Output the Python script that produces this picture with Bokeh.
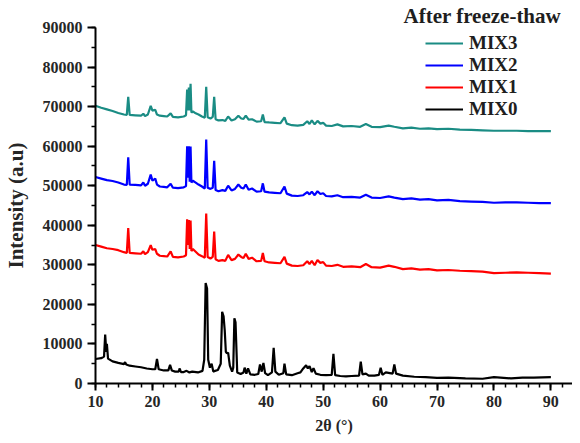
from bokeh.plotting import figure
from bokeh.models import Range1d, Legend, LegendItem, FixedTicker
from bokeh.embed import file_html
from bokeh.resources import INLINE

# ---------------- data ----------------
x_mix0 = [10, 11, 11.5, 11.7, 11.9, 12.0, 12.2, 13, 14, 15, 15.2, 15.4, 16, 17, 18, 19, 20, 20.5, 20.8, 21.1,
          22, 22.8, 23.1, 23.4, 24, 24.6, 24.8, 25.0, 25.5, 26, 26.5, 27, 28, 28.8, 29.1, 29.35, 29.6, 29.8,
          30.1, 30.4, 30.7, 31, 31.5, 32.0, 32.25, 32.5, 32.7, 32.9, 33.1, 33.3, 33.6, 34.0, 34.2, 34.4, 34.6,
          34.9, 35.5, 36.0, 36.2, 36.5, 36.8, 37.2, 38, 38.6, 38.9, 39.2, 39.5, 39.8, 40.3, 41.0, 41.3, 41.6,
          42.2, 43.0, 43.2, 43.5, 44.5, 45.5, 46, 46.5, 47, 47.3, 47.6, 48.0, 48.3, 48.7, 49.5, 50.5, 51.5,
          51.8, 52.1, 53, 54, 55, 56.3, 56.6, 56.9, 57.5, 58, 59, 59.8, 60.1, 60.4, 61, 62.2, 62.5, 62.8, 64,
          66, 68, 70, 72, 75, 78, 80, 83, 85, 87, 90]
y_mix0 = [6200, 6400, 6800, 12400, 8000, 10000, 6300, 5600, 5200, 4900, 5400, 4800, 4500, 4300, 4100, 3800,
          3600, 3600, 6200, 3600, 3300, 3300, 4700, 3300, 3000, 3000, 3800, 2900, 2900, 3200, 2800, 3000,
          2800, 3200, 6000, 25400, 24000, 6000, 4000, 5000, 3000, 3200, 3400, 5000, 18100, 17000, 13500,
          8000, 7600, 7800, 4500, 3000, 4000, 16500, 15500, 2800, 2400, 2800, 4000, 2500, 3800, 2300, 2200,
          2400, 4800, 3000, 5200, 2600, 2100, 2800, 9000, 3000, 2200, 2600, 5000, 2300, 2100, 2600, 2800,
          3800, 4600, 3800, 4400, 2900, 3900, 2500, 2200, 2100, 2200, 7500, 2100, 1900, 1800, 1900, 2000,
          5500, 2300, 2500, 2000, 2000, 2200, 4000, 2200, 2800, 2500, 4800, 2500, 2000, 1700, 1600, 1400,
          1500, 1300, 1200, 1600, 1300, 1500, 1500, 1600]

x_mix = [10, 11, 12, 13, 14, 15, 15.5, 15.75, 16.0, 17, 18, 18.4, 18.7, 19.2, 19.7, 20.0, 20.5, 20.8, 21.3,
         22, 22.6, 23.2, 23.6, 24.5, 25.5, 25.9, 26.1, 26.25, 26.4, 26.55, 26.7, 26.85, 27.1, 27.6, 28.1,
         28.7, 29.2, 29.45, 29.7, 30.2, 30.6, 30.85, 31.1, 31.6, 32.3, 32.8, 33.3, 33.9, 34.5, 35.1, 35.6,
         36.0, 36.4, 36.9, 37.5, 38.3, 39.1, 39.4, 39.7, 40.5, 41.5, 42.5, 43.2, 43.6, 44.5, 45.5, 46.5,
         47.2, 47.6, 48.0, 48.5, 49.0, 49.5, 50.0, 50.5, 51.5, 52.5, 53.5, 55, 56.5, 57.5, 58.5, 60, 61.5,
         62.5, 64, 65.5, 67, 68.5, 70, 72, 74, 76, 78, 80, 82, 84, 86, 88, 90]

y_mix1 = [35000, 34600, 34200, 34000, 33700, 33200, 33000, 39300, 33000, 32900, 32800, 33400, 32700, 33200,
          35000, 33800, 34000, 32800, 32300, 32200, 32100, 33400, 32000, 31900, 32100, 32400, 41500, 35000,
          41300, 34000, 41200, 33500, 34000, 33300, 32600, 32200, 31800, 43000, 32000, 31600, 32000, 38400,
          31400, 31000, 31200, 31000, 32500, 31200, 31500, 32600, 32000, 31700, 32800, 31500, 31800, 30900,
          31000, 33000, 30900, 30600, 30500, 30400, 32000, 30300, 29800, 29700, 29900, 30900, 30200, 31000,
          29900, 31200, 30500, 30700, 29800, 29700, 30000, 29500, 29600, 29400, 30200, 29400, 29300, 29800,
          29500, 28900, 29100, 28800, 28900, 28600, 28700, 28500, 28400, 28300, 27900, 28000, 28100, 28000,
          27900, 27800]

y_mix2 = [52200, 51800, 51400, 51200, 50800, 50300, 50200, 57200, 50300, 50200, 50100, 50800, 50000, 50500,
          52800, 51300, 51800, 50300, 49800, 49700, 49600, 50500, 49500, 49400, 49600, 49900, 60000, 52000,
          60000, 51000, 59900, 50800, 51300, 50800, 50300, 49800, 49300, 61700, 49500, 49200, 49500, 56300,
          48900, 48600, 48900, 48700, 50000, 48800, 49200, 50300, 49500, 49300, 50300, 49000, 49300, 48500,
          48600, 50600, 48500, 48300, 48200, 48100, 49800, 48000, 47500, 47400, 47600, 48400, 47800, 48500,
          47600, 48600, 47900, 48100, 47400, 47300, 47600, 47100, 47200, 47000, 47700, 47000, 46900, 47300,
          47000, 46600, 46800, 46500, 46600, 46300, 46400, 46100, 46000, 45900, 45700, 45800, 45800, 45700,
          45600, 45600]

y_mix3 = [70200, 69700, 69300, 68900, 68400, 68000, 67900, 72500, 67900, 67800, 67700, 68200, 67600, 68000,
          70200, 69000, 69200, 68000, 67700, 67600, 67500, 68300, 67400, 67300, 67500, 67800, 74300, 69000,
          74800, 69000, 75800, 68500, 68800, 68300, 68000, 67500, 67200, 75000, 67300, 67000, 67400, 72500,
          66800, 66500, 66600, 66400, 67500, 66500, 66800, 67700, 67000, 66900, 67700, 66700, 66800, 66200,
          66300, 68000, 66100, 66000, 65900, 65800, 67300, 65700, 65300, 65200, 65400, 66300, 65600, 66500,
          65500, 66400, 65700, 65900, 65200, 65100, 65500, 65000, 65100, 64900, 65600, 64900, 64800, 65200,
          64900, 64500, 64700, 64400, 64500, 64300, 64400, 64200, 64100, 64000, 63900, 63900, 63900, 63800,
          63800, 63800]

series_names = ["MIX3", "MIX2", "MIX1", "MIX0"]
series_colors = ["#1a8c84", "#0000ff", "#ff0000", "#000000"]
x_ticks = [10, 20, 30, 40, 50, 60, 70, 80, 90]
x_minor = list(range(10, 95, 2))
y_ticks = [0, 10000, 20000, 30000, 40000, 50000, 60000, 70000, 80000, 90000]
y_minor = list(range(0, 90001, 5000))

# ---------------- figure ----------------
FONT = "Liberation Serif"
TXT = "#262626"

p = figure(width=572, height=440, output_backend="svg", toolbar_location=None,
           x_range=Range1d(10, 93.8), y_range=Range1d(0, 90000),
           min_border_left=94, min_border_right=0, min_border_top=27, min_border_bottom=57)
p.outline_line_color = None
p.grid.visible = False

p.title.text = "After freeze-thaw"
p.title.text_font = FONT
p.title.text_font_style = "bold"
p.title.text_font_size = "21px"
p.title.text_color = "#1e1e1e"
p.title.align = "left"
p.title.offset = 308
p.title.standoff = 0

xs_all = [x_mix, x_mix, x_mix, x_mix0]
ys_all = [y_mix3, y_mix2, y_mix1, y_mix0]
renderers = []
for xs, ys, c in zip(xs_all, ys_all, series_colors):
    renderers.append(p.line(xs, ys, line_color=c, line_width=2.2))

for ax in (p.xaxis[0], p.yaxis[0]):
    ax.axis_line_width = 2
    ax.axis_line_color = "black"
    ax.major_tick_line_width = 2
    ax.minor_tick_line_width = 1.5
    ax.major_tick_in = 0
    ax.minor_tick_in = 0
    ax.major_label_text_font = FONT
    ax.major_label_text_font_style = "bold"
    ax.major_label_text_font_size = "16px"
    ax.major_label_text_color = TXT
    ax.axis_label_text_font = FONT
    ax.axis_label_text_font_style = "bold"
    ax.axis_label_text_color = TXT

p.xaxis[0].ticker = FixedTicker(ticks=x_ticks, minor_ticks=x_minor)
p.yaxis[0].ticker = FixedTicker(ticks=y_ticks, minor_ticks=y_minor)
p.xaxis.major_tick_out = 7
p.xaxis.minor_tick_out = 4
p.xaxis.major_label_standoff = 5
p.yaxis.major_tick_out = 8
p.yaxis.minor_tick_out = 4
p.yaxis.major_label_standoff = 5

p.xaxis.axis_label = "2θ (°)"
p.xaxis.axis_label_text_font_size = "16px"
p.xaxis.axis_label_standoff = 7

p.yaxis.axis_label = "Intensity (a.u)"
p.yaxis.axis_label_text_font_size = "21px"
p.yaxis.axis_label_standoff = 12

legend = Legend(items=[LegendItem(label=n, renderers=[r]) for n, r in zip(series_names, renderers)],
                location=(330, 263))
legend.glyph_width = 38
legend.glyph_height = 20
legend.label_height = 20
legend.label_standoff = 6
legend.spacing = 0
legend.padding = 0
legend.margin = 0
legend.border_line_color = None
legend.background_fill_alpha = 0
legend.label_text_font = FONT
legend.label_text_font_style = "bold"
legend.label_text_font_size = "19px"
legend.label_text_color = "#1e1e1e"
p.add_layout(legend)

open("out.html", "w").write(file_html(p, INLINE))
